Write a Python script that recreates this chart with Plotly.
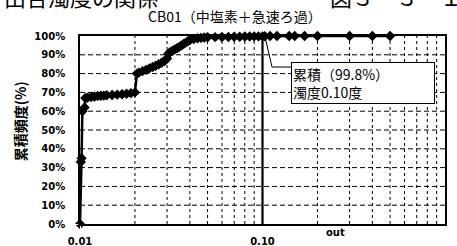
import plotly.graph_objects as go

# cumulative frequency of turbidity
turbidity = [0.0100, 0.0101, 0.0102, 0.0103, 0.0106, 0.0107,
             0.0110, 0.0115, 0.0120, 0.0125, 0.0130, 0.0135, 0.0140, 0.0150,
             0.0160, 0.0170, 0.0180, 0.0190, 0.0200,
             0.0205, 0.0210, 0.0220, 0.0230, 0.0240, 0.0250, 0.0260, 0.0270,
             0.0280, 0.0290, 0.0300, 0.0305, 0.0310, 0.0320, 0.0330, 0.0340,
             0.0350, 0.0360, 0.0370, 0.0380, 0.0390, 0.0400, 0.0420, 0.0440,
             0.0460, 0.0480, 0.0500, 0.0550, 0.0600, 0.0650, 0.0700, 0.0750,
             0.0800, 0.0850, 0.0900, 0.0950, 0.1000, 0.1030,
             0.11, 0.12, 0.14, 0.15, 0.17, 0.20, 0.30, 0.40, 0.50]
cumulative = [0.0, 33.0, 35.0, 60.0, 62.0, 67.0,
              67.2, 67.5, 67.8, 68.0, 68.2, 68.3, 68.5, 68.6,
              68.8, 69.0, 69.3, 69.6, 70.0,
              80.0, 80.5, 81.3, 82.0, 82.8, 83.5, 84.2, 85.0,
              85.8, 86.7, 88.0, 90.5, 91.3, 92.0, 92.8, 93.5,
              94.2, 95.0, 95.8, 96.5, 97.2, 97.8, 98.4, 98.8,
              99.0, 99.2, 99.3, 99.4, 99.5, 99.5, 99.6, 99.6,
              99.7, 99.7, 99.8, 99.8, 99.8, 99.9,
              100, 100, 100, 100, 100, 100, 100, 100, 100]

cutoff_x = [0.10, 0.10]
cutoff_y = [0, 100]

x_tickvals = [0.01, 0.1, 1.0]
x_ticktext = ["0.01", "0.10", "1.00"]
x_minor = [0.02, 0.03, 0.04, 0.05, 0.06, 0.07, 0.08, 0.09,
           0.2, 0.3, 0.4, 0.5, 0.6, 0.7, 0.8, 0.9]
y_tickvals = [0, 10, 20, 30, 40, 50, 60, 70, 80, 90, 100]
y_ticktext = ["0%", "10%", "20%", "30%", "40%", "50%",
              "60%", "70%", "80%", "90%", "100%"]

title_text = "CB01（中塩素＋急速ろ過）"
ytitle_text = "累積頻度(%)"
box_text = "累積（99.8%）<br>濁度0.10度"

tickfont = dict(family="DejaVu Sans", size=10, color="black")
cjk = "Noto Sans CJK JP"

fig = go.Figure()

# dashed grid drawn as thin traces from the grid value lists
for gx in x_minor:
    fig.add_trace(go.Scatter(x=[gx, gx], y=[0, 100], mode="lines",
                             line=dict(color="black", width=1, dash="3px,3px"),
                             showlegend=False, hoverinfo="skip"))
for gy in y_tickvals[1:-1]:
    fig.add_trace(go.Scatter(x=[0.01, 1.0], y=[gy, gy], mode="lines",
                             line=dict(color="black", width=1, dash="5px,3px"),
                             showlegend=False, hoverinfo="skip"))

fig.add_trace(go.Scatter(x=cutoff_x, y=cutoff_y, mode="lines",
                         line=dict(color="black", width=2.2),
                         showlegend=False, hoverinfo="skip"))
fig.add_trace(go.Scatter(x=turbidity, y=cumulative, mode="lines+markers",
                         line=dict(color="black", width=2.5),
                         marker=dict(symbol="diamond", size=8, color="black"),
                         cliponaxis=False, showlegend=False))

fig.update_layout(
    width=457, height=246,
    margin=dict(l=80, r=12, t=36, b=22),
    paper_bgcolor="white", plot_bgcolor="white",
    xaxis=dict(type="log", range=[-2, 0], automargin=False,
               tickmode="array", tickvals=x_tickvals,
               ticktext=["<b>" + t + "</b>" for t in x_ticktext],
               showgrid=False, ticks="outside", ticklen=7, tickcolor="white",
               tickfont=tickfont, zeroline=False,
               showline=True, mirror=True, linecolor="black", linewidth=1.5),
    yaxis=dict(range=[0, 100], tickmode="array", automargin=False,
               tickvals=y_tickvals,
               ticktext=["<b>" + t + "</b>" for t in y_ticktext],
               showgrid=False, ticks="outside", ticklen=11, tickcolor="white",
               tickfont=tickfont, zeroline=False,
               showline=True, mirror=True, linecolor="black", linewidth=1.5),
    annotations=[
        dict(text=title_text, xref="paper", yref="paper", x=0.425, y=1.105,
             xanchor="center", yanchor="middle", showarrow=False,
             font=dict(family=cjk, size=14, color="black")),
        dict(text="<b>" + ytitle_text + "</b>", xref="paper", yref="paper",
             x=-0.165, y=0.545,
             xanchor="center", yanchor="middle", showarrow=False, textangle=-90,
             font=dict(family=cjk, size=14, color="black")),
        dict(text="<b>out</b>", xref="paper", yref="paper", x=0.70, y=-0.045,
             xanchor="center", yanchor="middle", showarrow=False,
             font=dict(family="DejaVu Sans", size=10, color="black")),
        dict(text=box_text, xref="paper", yref="paper", x=0.578, y=0.862,
             xanchor="left", yanchor="top", showarrow=False, align="left",
             width=140, bordercolor="black", borderwidth=1, borderpad=1,
             bgcolor="white",
             font=dict(family=cjk, size=14, color="black")),
        dict(text="出合濁度の関係", xref="paper", yref="paper", x=-0.215, y=1.215,
             xanchor="left", yanchor="middle", showarrow=False,
             font=dict(family=cjk, size=22, color="black")),
        dict(text="図３－３－１", xref="paper", yref="paper", x=0.68, y=1.215,
             xanchor="left", yanchor="middle", showarrow=False,
             font=dict(family=cjk, size=22, color="black")),
    ],
    shapes=[
        dict(type="path", xref="paper", yref="paper",
             path="M 0.507 0.995 L 0.526 0.835 L 0.578 0.835",
             line=dict(color="black", width=1)),
    ],
)

fig.write_html("out.html", config={"displayModeBar": False},
               post_script="document.body.style.margin='0';document.body.style.overflow='hidden';")
